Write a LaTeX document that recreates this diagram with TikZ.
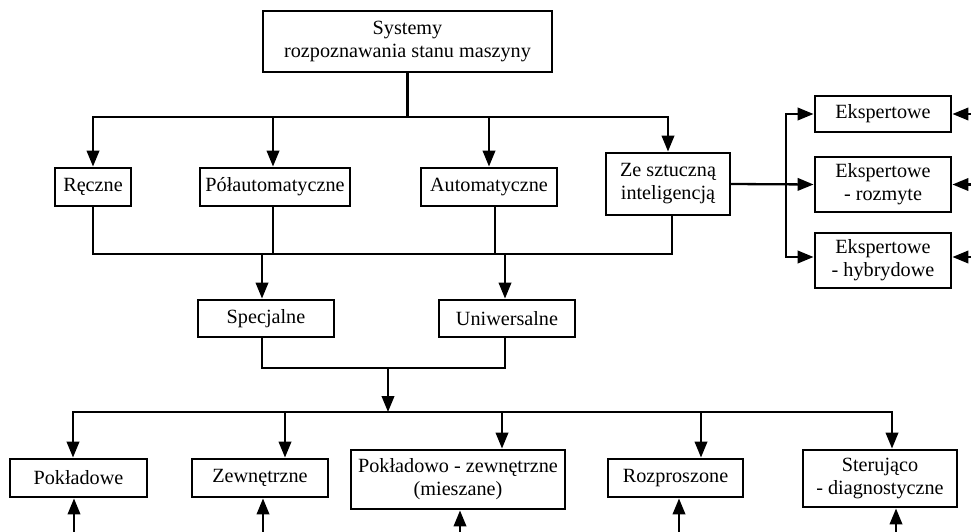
\documentclass[tikz,border=0pt]{standalone}
\usepackage{fontspec}
\setmainfont{Liberation Serif}
\usetikzlibrary{arrows.meta}

\tikzset{
  box/.style={draw, line width=2.9pt, inner sep=0pt, align=center,
              font=\fontsize{20.2}{23}\selectfont},
  ln/.style={line width=2.3pt, line cap=rect},
  arr/.style={line width=2.3pt, line cap=rect, -{Triangle[length=16pt,width=12.5pt]}},
}

\begin{document}
\begin{tikzpicture}[x=1pt,y=-1pt]
\useasboundingbox (0,0) rectangle (971,532);

% bus levels and edges
\coordinate (busA) at (0,117);
\coordinate (busB) at (0,254);
\coordinate (busC) at (0,368);
\coordinate (busD) at (0,412);
\coordinate (split) at (388,368);
\coordinate (vx) at (786,0);
\coordinate (redge) at (971,0);
\coordinate (bedge) at (0,532);

% boxes
\node[box, minimum width=289pt, minimum height=61pt] (top) at (407.5,41.5)
  {Systemy\\rozpoznawania stanu maszyny};

\node[box, minimum width=76pt,  minimum height=38pt] (reczne) at (93,187)   {Ręczne};
\node[box, minimum width=150pt, minimum height=38pt] (polauto) at (275,187) {Półautomatyczne};
\node[box, minimum width=136pt, minimum height=38pt] (auto) at (489,187)    {Automatyczne};
\node[box, minimum width=124pt, minimum height=62pt] (ai) at (668,184)
  {Ze sztuczną\\inteligencją};

\node[box, minimum width=136pt, minimum height=36pt] (eks1) at (883,114)   {Ekspertowe};
\node[box, minimum width=136pt, minimum height=55pt] (eks2) at (883,184.5) {Ekspertowe\\- rozmyte};
\node[box, minimum width=136pt, minimum height=55pt] (eks3) at (883,260.5) {Ekspertowe\\- hybrydowe};

\node[box, minimum width=136pt, minimum height=37pt] (spec) at (266,318.5) {Specjalne};
\node[box, minimum width=136pt, minimum height=37pt] (uni) at (507,318.5)  {Uniwersalne};

\node[box, minimum width=137pt, minimum height=38pt] (pok) at (78.5,478)  {Pokładowe};
\node[box, minimum width=136pt, minimum height=38pt] (zew) at (260,478)   {Zewnętrzne};
\node[box, minimum width=214pt, minimum height=59pt] (pz) at (458,479.5)  {Pokładowo - zewnętrzne\\(mieszane)};
\node[box, minimum width=135pt, minimum height=38pt] (roz) at (675.5,478) {Rozproszone};
\node[box, minimum width=154pt, minimum height=57pt] (ster) at (880,478.5) {Sterująco\\- diagnostyczne};

% top level fan-out
\draw[ln] (top.south) -- (top.south |- busA);
\draw[ln] (reczne.north |- busA) -- (ai.north |- busA);
\draw[arr] (reczne.north |- busA) -- (reczne.north);
\draw[arr] ([xshift=-2pt]polauto.north |- busA) -- ([xshift=-2pt]polauto.north);
\draw[arr] (auto.north |- busA) -- (auto.north);
\draw[arr] (ai.north |- busA) -- (ai.north);

% second level merge
\draw[ln] (reczne.south) -- (reczne.south |- busB)
          -- ([xshift=4pt]ai.south |- busB) -- ([xshift=4pt]ai.south);
\draw[ln] ([xshift=-2pt]polauto.south) -- ([xshift=-2pt]polauto.south |- busB);
\draw[ln] ([xshift=6pt]auto.south) -- ([xshift=6pt]auto.south |- busB);
\draw[arr] ([xshift=-4pt]spec.north |- busB) -- ([xshift=-4pt]spec.north);
\draw[arr] ([xshift=-2pt]uni.north |- busB) -- ([xshift=-2pt]uni.north);

% expert systems branch
\draw[ln] (eks1.west -| vx) -- ([yshift=3.5pt]eks3.west -| vx);
\draw[arr] (ai.east) -- (eks2.west);
\draw[arr] (eks1.west -| vx) -- (eks1.west);
\draw[arr] ([yshift=3.5pt]eks3.west -| vx) -- ([yshift=3.5pt]eks3.west);
\draw[arr] (eks1.east -| redge) -- (eks1.east);
\draw[arr] (eks2.east -| redge) -- (eks2.east);
\draw[arr] ([yshift=3.5pt]eks3.east -| redge) -- ([yshift=3.5pt]eks3.east);

% third level merge
\draw[ln] ([xshift=-4pt]spec.south) -- ([xshift=-4pt]spec.south |- busC)
          -- ([xshift=-2pt]uni.south |- busC) -- ([xshift=-2pt]uni.south);
\draw[arr] (split) -- (split |- busD);

% bottom level fan-out
\draw[ln] ([xshift=-5.5pt]pok.north |- busD) -- ([xshift=12pt]ster.north |- busD);
\draw[arr] ([xshift=-5.5pt]pok.north |- busD) -- ([xshift=-5.5pt]pok.north);
\draw[arr] ([xshift=25pt]zew.north |- busD) -- ([xshift=25pt]zew.north);
\draw[arr] ([xshift=44pt]pz.north |- busD) -- ([xshift=44pt]pz.north);
\draw[arr] ([xshift=25.5pt]roz.north |- busD) -- ([xshift=25.5pt]roz.north);
\draw[arr] ([xshift=12pt]ster.north |- busD) -- ([xshift=12pt]ster.north);

% inputs entering from below
\draw[arr] ([xshift=-4.5pt]pok.south |- bedge) -- ([xshift=-4.5pt]pok.south);
\draw[arr] ([xshift=3pt]zew.south |- bedge) -- ([xshift=3pt]zew.south);
\draw[arr] ([xshift=2pt]pz.south |- bedge) -- ([xshift=2pt]pz.south);
\draw[arr] ([xshift=3.5pt]roz.south |- bedge) -- ([xshift=3.5pt]roz.south);
\draw[arr] ([xshift=16pt]ster.south |- bedge) -- ([xshift=16pt]ster.south);
\end{tikzpicture}
\end{document}
